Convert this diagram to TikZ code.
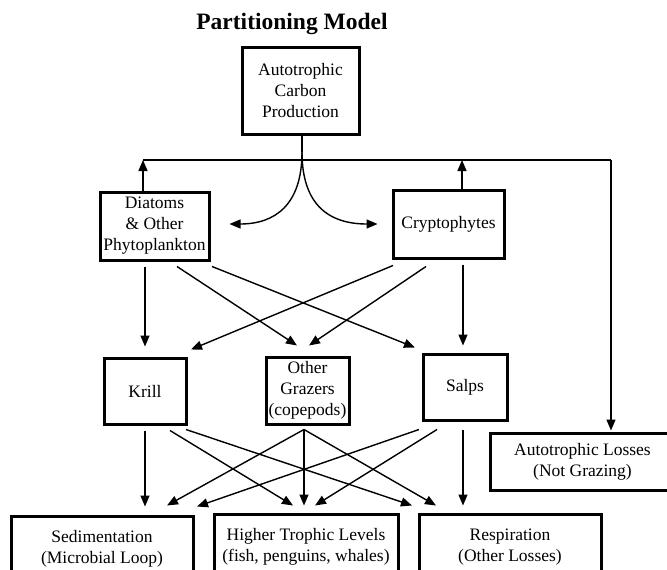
\documentclass[tikz,border=0pt]{standalone}
\usepackage{fontspec}
\setmainfont{Liberation Serif}
\usetikzlibrary{arrows.meta}
\begin{document}
\begin{tikzpicture}[x=1pt,y=-1pt,
  box/.style={draw,line width=3pt,rectangle,inner sep=0pt,align=center,font=\fontsize{17.5}{21}\selectfont},
  arr/.style={line width=1.4pt,-{Triangle[length=11pt,width=9pt]}},
  ln/.style={line width=1.4pt}]
\clip (0,0) rectangle (667,570);
\node[font=\bfseries\fontsize{23.5}{27}\selectfont,anchor=base] (title) at (292,29) {Partitioning Model};
\node[box,minimum width=117pt,minimum height=87pt] (top) at (300.5,90.5) {Autotrophic\\Carbon\\Production};
\node[box,minimum width=109pt,minimum height=68pt] (dia) at (154.5,226) {Diatoms\\\&~Other\\Phytoplankton};
\node[box,minimum width=111pt,minimum height=68pt] (cry) at (448.5,224) {Cryptophytes};
\node[box,minimum width=82pt,minimum height=66pt] (krill) at (145,391) {Krill};
\node[box,minimum width=83pt,minimum height=67pt] (og) at (307.5,390.5) {Other\\Grazers\\(copepods)};
\node[box,minimum width=84pt,minimum height=66pt] (salps) at (465,387) {Salps};
\node[box,minimum width=185pt,minimum height=57pt] (al) at (582.5,461.5) {Autotrophic Losses\\(Not Grazing)};
\node[box,minimum width=182pt,minimum height=66pt] (sed) at (102,549) {Sedimentation\\(Microbial Loop)};
\node[box,minimum width=184pt,minimum height=66pt] (htl) at (306,547) {Higher Trophic Levels\\(fish, penguins, whales)};
\node[box,minimum width=182pt,minimum height=66pt] (resp) at (510,547) {Respiration\\(Other Losses)};
% top split
\coordinate (split) at (302,152);
\coordinate (hl) at (143,160);
\coordinate (hr) at (611,160);
\coordinate (cu) at ([xshift=13.5pt]cry.north);
\draw[ln] ([xshift=1.5pt]top.south) -- (split);
\draw[arr] (split) .. controls (302,205) and (275,224) .. ([xshift=19pt,yshift=2pt]dia.east);
\draw[arr] (split) .. controls (302,205) and (329,224) .. ([xshift=-14pt]cry.west);
\draw[ln] (hl) -- (hr);
\draw[arr] (hr) -- ([yshift=1pt]al.north -| hr);
\draw[arr] ([xshift=-11.5pt]dia.north) -- (hl);
\draw[arr] (cu) -- (cu |- hl);
% row 1 -> row 2
\draw[arr] ([xshift=-9.5pt,yshift=-5pt]dia.south) -- ([yshift=10pt]krill.north);
\draw[arr] ([xshift=22.5pt,yshift=-5pt]dia.south) -- ([xshift=-10.5pt,yshift=10pt]og.north);
\draw[arr] ([xshift=57.5pt,yshift=-5pt]dia.south) -- ([xshift=-50pt,yshift=5pt]salps.north);
\draw[arr] ([xshift=-55.5pt,yshift=-6pt]cry.south) -- ([xshift=46pt,yshift=7pt]krill.north);
\draw[arr] ([xshift=-22.5pt,yshift=-7pt]cry.south) -- ([xshift=1.5pt,yshift=10pt]og.north);
\draw[arr] ([xshift=14.5pt,yshift=-5pt]cry.south) -- ([xshift=-2pt,yshift=7pt]salps.north);
% row 2 -> row 3
\draw[arr] ([yshift=-5pt]krill.south) -- ([xshift=43pt,yshift=8pt]sed.north);
\draw[arr] ([xshift=25pt,yshift=-5pt]krill.south) -- ([xshift=-13pt,yshift=7pt]htl.north);
\draw[arr] ([xshift=41pt,yshift=-4pt]krill.south) -- ([xshift=-98pt,yshift=7pt]resp.north);
\draw[arr] ([xshift=-3.5pt,yshift=-4pt]og.south) -- ([xshift=65pt,yshift=9pt]sed.north);
\draw[arr] ([xshift=-3.5pt,yshift=-4pt]og.south) -- ([xshift=-2pt,yshift=7pt]htl.north);
\draw[arr] ([xshift=-3.5pt,yshift=-4pt]og.south) -- ([xshift=-74pt,yshift=7pt]resp.north);
\draw[arr] ([xshift=-46pt,yshift=-8pt]salps.south) -- ([xshift=95pt,yshift=8pt]sed.north);
\draw[arr] ([xshift=-28pt,yshift=-8pt]salps.south) -- ([xshift=9pt,yshift=7pt]htl.north);
\draw[arr] ([xshift=-2pt,yshift=-8pt]salps.south) -- ([xshift=-47pt,yshift=7pt]resp.north);
\end{tikzpicture}
\end{document}
